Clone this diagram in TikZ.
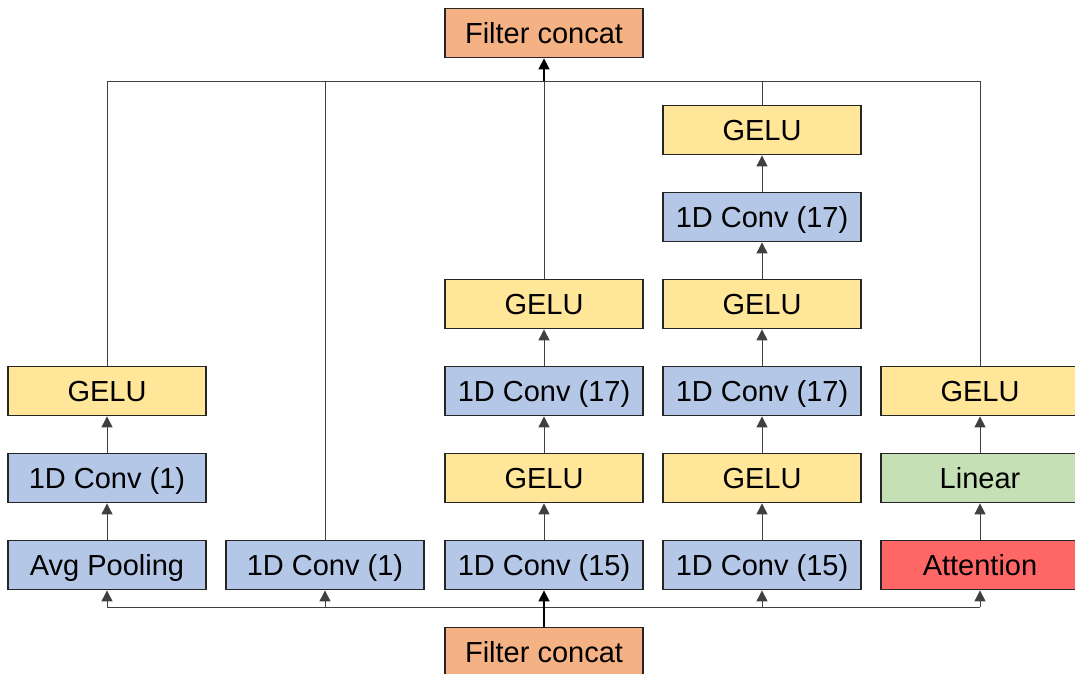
\documentclass[tikz,border=0pt]{standalone}
\usepackage{fontspec}
\setmainfont{Liberation Sans}
\usetikzlibrary{arrows.meta}
\definecolor{cOrange}{HTML}{F4B183}
\definecolor{cBlue}{HTML}{B4C7E7}
\definecolor{cYellow}{HTML}{FFE699}
\definecolor{cGreen}{HTML}{C5E0B4}
\definecolor{cRed}{HTML}{FF6666}
\definecolor{cEdge}{HTML}{262626}
\definecolor{cWire}{HTML}{404040}
\tikzset{
  blk/.style={draw=cEdge, line width=1.8pt, minimum width=198pt, minimum height=49pt,
    inner sep=0pt, text height=21pt, text depth=0pt,
    font=\fontsize{29}{34}\selectfont, anchor=center},
  conv/.style={blk, fill=cBlue},
  gelu/.style={blk, fill=cYellow},
  cat/.style={blk, fill=cOrange},
  lin/.style={blk, fill=cGreen},
  att/.style={blk, fill=cRed},
  wire/.style={draw=cWire, line width=1pt},
  flow/.style={wire, -{Triangle[length=11pt,width=11pt]}},
  mainflow/.style={flow, line width=1.6pt, draw=black},
}
\begin{document}
\begin{tikzpicture}[x=1pt,y=-1pt]
\useasboundingbox (0,0) rectangle (1075,673);
% output and input concatenations
\node[cat] (top) at (544,33) {Filter concat};
\node[cat] (bot) at (544,652) {Filter concat};
% branch 1: pooling
\node[conv] (p1) at (107,565) {Avg Pooling};
\node[conv] (p2) at (107,478) {1D Conv (1)};
\node[gelu] (p3) at (107,391) {GELU};
% branch 2: pointwise conv
\node[conv] (q1) at (325,565) {1D Conv (1)};
% branch 3
\node[conv] (r1) at (544,565) {1D Conv (15)};
\node[gelu] (r2) at (544,478) {GELU};
\node[conv] (r3) at (544,391) {1D Conv (17)};
\node[gelu] (r4) at (544,304) {GELU};
% branch 4
\node[conv] (s1) at (762,565) {1D Conv (15)};
\node[gelu] (s2) at (762,478) {GELU};
\node[conv] (s3) at (762,391) {1D Conv (17)};
\node[gelu] (s4) at (762,304) {GELU};
\node[conv] (s5) at (762,217) {1D Conv (17)};
\node[gelu] (s6) at (762,130) {GELU};
% branch 5: attention
\node[att] (t1) at (980,565) {Attention};
\node[lin] (t2) at (980,478) {Linear};
\node[gelu] (t3) at (980,391) {GELU};
% collector and distributor rails
\coordinate (ctop) at (544,81);
\coordinate (cbot) at (544,607);
\coordinate (tl) at (107,81);
\coordinate (tr) at (980,81);
\coordinate (bl) at (107,607);
\coordinate (br) at (980,607);
% chains within the branches
\foreach \a/\b in {p1/p2,p2/p3,r1/r2,r2/r3,r3/r4,s1/s2,s2/s3,s3/s4,s4/s5,s5/s6,t1/t2,t2/t3}
  \draw[flow] (\a.north) -- (\b.south);
% branch outputs up to the top rail
\foreach \n in {p3,q1,r4,s6,t3}
  \draw[wire] (\n.north) -- (\n.north |- ctop);
\draw[wire] (tl) -- (tr);
\draw[mainflow] (ctop) -- (top.south);
% input down to the bottom rail and into each branch
\draw[wire] (bl) -- (br);
\draw[mainflow] (bot.north) -- (r1.south);
\foreach \n in {p1,q1,s1,t1}
  \draw[flow] (\n.south |- cbot) -- (\n.south);
\end{tikzpicture}
\end{document}
